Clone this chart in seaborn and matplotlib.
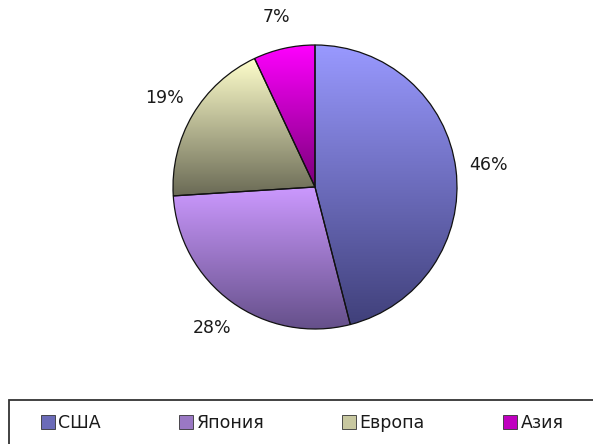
import numpy as np
import matplotlib
matplotlib.use('Agg')
import matplotlib.pyplot as plt
from matplotlib.patches import Patch, Rectangle
from matplotlib.colors import to_rgb
import seaborn as sns

sns.set_style('white')
plt.rcParams['font.family'] = ['DejaVu Sans']

# данные
regions = ['США', 'Япония', 'Европа', 'Азия']
shares = [46, 28, 19, 7]

# градиент каждого сектора: сверху светлее, снизу темнее
top_colors = ['#9999ff', '#cc99ff', '#ffffcc', '#ff00ff']
bottom_colors = ['#40407a', '#65508a', '#6a6a55', '#7a007a']
legend_colors = ['#6b6bb8', '#9a78c4', '#c8c8a0', '#c000c0']

fig = plt.figure(figsize=(5.93, 4.44), dpi=100)
ax = fig.add_axes([0.172, 0.0991, 0.7184, 0.9595])

wedges, texts, autotexts = ax.pie(
    shares, startangle=90, counterclock=False,
    autopct='%1.0f%%', pctdistance=1.23,
    wedgeprops=dict(edgecolor='#111111', linewidth=0.9),
    textprops=dict(fontsize=12.5, color='#1a1a1a'))

for w, c_top, c_bot in zip(wedges, top_colors, bottom_colors):
    ext = w.get_path().get_extents(w.get_patch_transform())
    t = np.linspace(0, 1, 256)[:, None]
    grad = (1 - t) * np.array(to_rgb(c_top)) + t * np.array(to_rgb(c_bot))
    img = ax.imshow(grad[:, None, :], extent=[ext.x0, ext.x1, ext.y0, ext.y1],
                    origin='upper', aspect='auto', zorder=0.5,
                    interpolation='bilinear')
    img.set_clip_path(w)
    w.set_facecolor('none')
    w.set_zorder(1)

ax.set_xlim(-1.5, 1.5)
ax.set_ylim(-1.5, 1.5)
ax.set_aspect('auto')
ax.axis('off')

# легенда
handles = [Patch(facecolor=c, edgecolor='#333333', linewidth=0.6) for c in legend_colors]
fig.legend(handles, regions, ncol=4, loc='center left',
           bbox_to_anchor=(41 / 593, 1 - 423 / 444), frameon=False,
           fontsize=12.5, handlelength=0.8, handleheight=0.8,
           handletextpad=0.2, columnspacing=4.5, borderpad=0, borderaxespad=0,
           labelcolor='#1a1a1a')
fig.patches.append(Rectangle((9 / 593, -0.05), 1.0, (444 - 400) / 444 + 0.05,
                             transform=fig.transFigure, fill=False,
                             edgecolor='#333333', linewidth=1.3))

fig.savefig('out.png', dpi=100)
